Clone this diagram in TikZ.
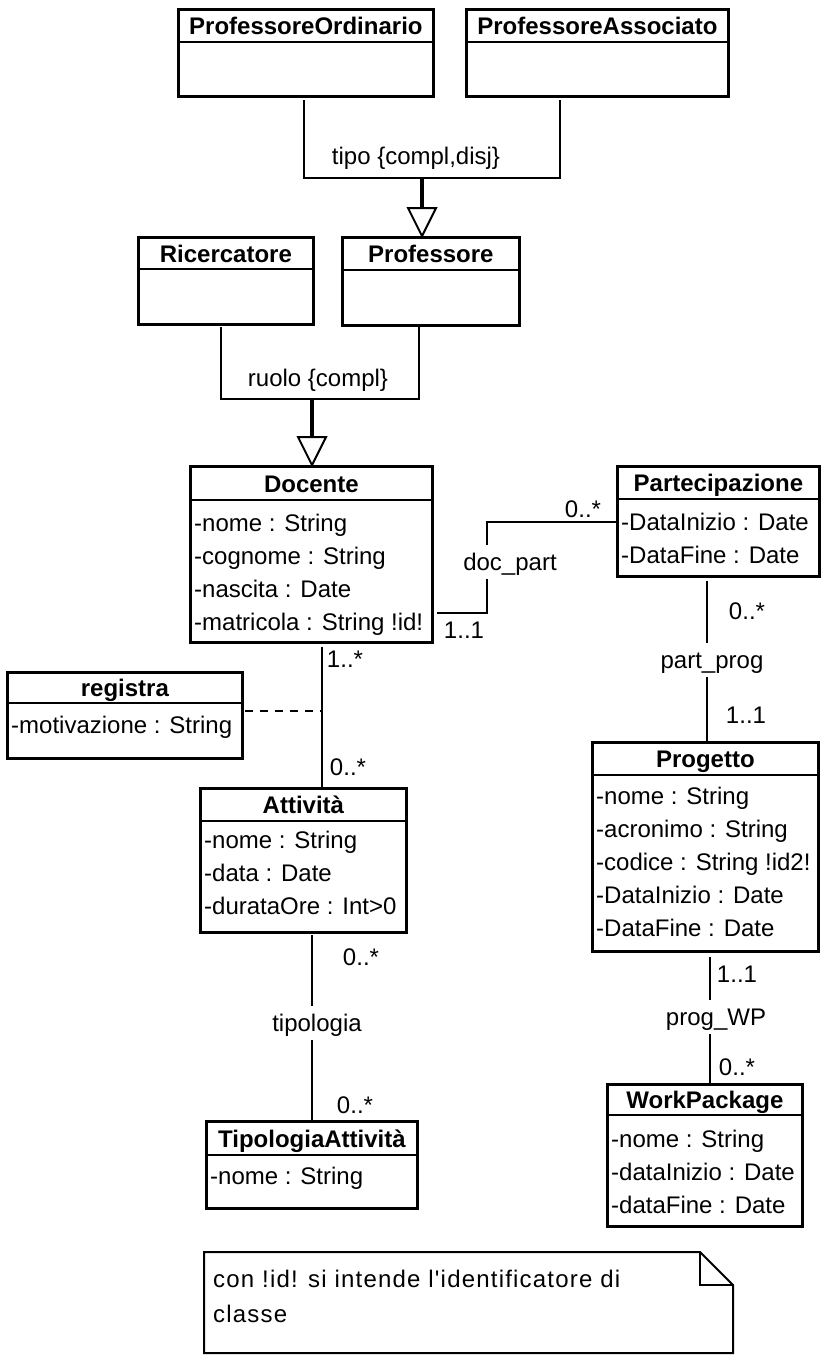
\documentclass[tikz,border=0pt]{standalone}
\usepackage{fontspec}
\setmainfont{Liberation Sans}
\newfontfamily\notefont{Liberation Sans}[Ligatures=TeXOff,LetterSpace=5]
\newcommand\dfont{\fontsize{24}{28}\selectfont}
\tikzset{
  classbox/.style={draw, line width=2.8pt, inner sep=0pt, fill=white},
  divider/.style={line width=2.8pt},
  clstitle/.style={font=\dfont\bfseries, inner sep=0pt, anchor=base},
  attrtext/.style={font=\dfont, inner sep=0pt, anchor=base west},
  mult/.style={font=\dfont, inner sep=0pt, anchor=base},
  glabel/.style={font=\dfont, inner sep=0pt, anchor=base},
  alabel/.style={font=\dfont, fill=white, inner xsep=2pt, inner ysep=5pt, text height=20pt, text depth=4pt, anchor=base},
  assoc/.style={line width=1.5pt},
  genline/.style={line width=1.5pt},
  genstem/.style={line width=3.5pt},
  gentri/.style={draw, line width=2pt, fill=white, line join=miter},
  notebox/.style={draw, line width=2pt, line join=miter},
  notetext/.style={font=\fontsize{24}{28}\notefont, inner sep=0pt, anchor=base west},
}
% #1 name, #2 x, #3 y, #4 width, #5 height, #6 header height, #7 title
\newcommand\umlclass[7]{%
  \node[classbox, anchor=north west, minimum width=#4pt, minimum height=#5pt] (#1) at (#2,#3) {};
  \draw[divider] ([yshift=-#6pt]#1.north west) -- ([yshift=-#6pt]#1.north east);
  \node[clstitle] (#1-t) at ([yshift={-(#6*0.5+9.5)*1pt}]#1.north) {#7};
}
% #1 name, #2 x, #3 first baseline, #4 list
\newcommand\umlattrs[4]{%
  \foreach \a [count=\i] in {#4} {
    \node[attrtext] (#1-a\i) at ({#2},{#3+33*(\i-1)}) {\a};
  }
}
\begin{document}
\begin{tikzpicture}[x=1pt,y=-1pt]
\fill[white] (0,0) rectangle (824,1360);
\useasboundingbox (0,0) rectangle (824,1360);

% classes
\umlclass{proford}{177}{8}{255}{87}{34}{ProfessoreOrdinario}
\umlclass{profass}{465}{8}{262}{87}{34}{ProfessoreAssociato}
\umlclass{ricerc}{137}{236}{175}{87}{33}{Ricercatore}
\umlclass{prof}{341}{236}{177}{88}{34}{Professore}
\umlclass{docente}{189}{465}{242}{176}{35}{Docente}
\umlattrs{docente}{194}{531.5}{-nome : String,-cognome : String,-nascita : Date,-matricola : String !id!}
\umlclass{partec}{616}{465}{202}{110}{34}{Partecipazione}
\umlattrs{partec}{621}{530}{-DataInizio : Date,-DataFine : Date}
\umlclass{registra}{6}{671}{235}{86}{32}{registra}
\umlattrs{registra}{11}{733.5}{-motivazione : String}
\umlclass{attivita}{199}{787}{206}{144}{34}{Attività}
\umlattrs{attivita}{204}{848.5}{-nome : String,-data : Date,-durataOre : Int>0}
\umlclass{progetto}{591}{741}{226}{209}{34}{Progetto}
\umlattrs{progetto}{596}{804.5}{-nome : String,-acronimo : String,-codice : String !id2!,-DataInizio : Date,-DataFine : Date}
\umlclass{tipatt}{205}{1120}{211}{87}{35}{TipologiaAttività}
\umlattrs{tipatt}{210}{1184.5}{-nome : String}
\umlclass{wp}{606}{1083}{195}{142}{32}{WorkPackage}
\umlattrs{wp}{611}{1147.5}{-nome : String,-dataInizio : Date,-dataFine : Date}

% generalization tipo
\coordinate (t1) at (304,100);
\coordinate (t2) at (304,178);
\coordinate (t3) at (560,178);
\coordinate (t4) at (560,100);
\coordinate (tj) at (422,178);
\coordinate (tb) at (422,208);
\coordinate (tapex) at (prof.north -| tj);
\draw[genline] (t1) -- (t2) -- (t3) -- (t4);
\draw[genstem] (tj) -- (tb);
\draw[gentri] ([xshift=-14pt]tb) -- ([xshift=14pt]tb) -- (tapex) -- cycle;
\node[glabel] (tipolbl) at (416,164) {tipo \{compl,disj\}};

% generalization ruolo
\coordinate (r1) at (221,327);
\coordinate (r2) at (221,399);
\coordinate (r3) at (419,399);
\coordinate (r4) at (419,327);
\coordinate (rj) at (312,399);
\coordinate (rb) at (312,437);
\coordinate (rapex) at (docente.north -| rj);
\draw[genline] (r1) -- (r2) -- (r3) -- (r4);
\draw[genstem] (rj) -- (rb);
\draw[gentri] ([xshift=-14pt]rb) -- ([xshift=14pt]rb) -- (rapex) -- cycle;
\node[glabel] (ruololbl) at (318,386) {ruolo \{compl\}};

% doc_part
\coordinate (d1) at (437,613);
\coordinate (d2) at (487,613);
\coordinate (d3) at (487,522);
\draw[assoc] (d1) -- (d2) -- (d3) -- (partec.west |- d3);
\node[alabel] (docpart) at (510,570) {doc\_part};
\node[mult] (m1) at (583,517) {0..*};
\node[mult] (m2) at (464,638) {1..1};

% docente - attivita
\coordinate (da1) at (322,647);
\draw[assoc] (da1) -- (attivita.north -| da1);
\node[mult] (m3) at (345,667) {1..*};
\node[mult] (m4) at (348,775) {0..*};
\coordinate (regs) at (245,711);
\coordinate (regj) at (322,711);
\draw[assoc, dash pattern=on 8pt off 7pt] (regs) -- (regj);

% tipologia
\coordinate (ti1) at (312,935);
\draw[assoc] (ti1) -- (tipatt.north -| ti1);
\node[alabel] (tipolog) at (317,1031) {tipologia};
\node[mult] (m5) at (361,965) {0..*};
\node[mult] (m6) at (355,1113) {0..*};

% part_prog
\coordinate (pp1) at (707,581);
\draw[assoc] (pp1) -- (progetto.north -| pp1);
\node[alabel] (partprog) at (712,668) {part\_prog};
\node[mult] (m7) at (747,619) {0..*};
\node[mult] (m8) at (746,723) {1..1};

% prog_WP
\coordinate (pw1) at (710,957);
\draw[assoc] (pw1) -- (wp.north -| pw1);
\node[alabel] (progwp) at (716,1025) {prog\_WP};
\node[mult] (m9) at (737,982) {1..1};
\node[mult] (m10) at (737,1075) {0..*};

% note
\draw[notebox] (204,1252) -- (700,1252) -- (733,1285) -- (733,1353) -- (204,1353) -- cycle;
\draw[notebox] (700,1252) -- (700,1285) -- (733,1285);
\node[notetext] (note1) at (213,1287) {con !id! si intende l'identificatore di};
\node[notetext] (note2) at (213,1322) {classe};
\end{tikzpicture}
\end{document}
